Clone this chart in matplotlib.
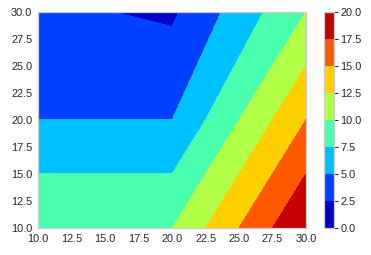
import numpy as np
import matplotlib
matplotlib.use('Agg')
import matplotlib.pyplot as plt
import seaborn as sns

sns.set_style('white')
plt.rcParams['font.family'] = ['Liberation Sans', 'DejaVu Sans']

# grid coordinates and values
xVals = [10, 20, 30]
yVals = [10, 20, 30]
zRow10 = [10, 10, 20]
zRow20 = [5, 5, 15]
zRow30 = [3, 2.1, 10]
levels = [0, 2.5, 5, 7.5, 10, 12.5, 15, 17.5, 20]

Z = np.array([zRow10, zRow20, zRow30])
X, Y = np.meshgrid(xVals, yVals)

fig = plt.figure(figsize=(371 / 72, 255 / 72), dpi=72)
ax = fig.add_axes([38.3 / 371, 1 - 228 / 255, (306 - 38.3) / 371, (228 - 11.7) / 255])
cax = fig.add_axes([324 / 371, 1 - 228 / 255, 10.3 / 371, (228 - 11.7) / 255])

cs = ax.contourf(X, Y, Z, levels=levels, cmap='jet')
ax.set_xticks(np.arange(10, 30.1, 2.5))
ax.set_yticks(np.arange(10, 30.1, 2.5))
ax.set_xticklabels(['%.1f' % v for v in np.arange(10, 30.1, 2.5)])
ax.set_yticklabels(['%.1f' % v for v in np.arange(10, 30.1, 2.5)])
ax.tick_params(length=0, pad=6, labelsize=11, labelcolor='.15')
for s in ax.spines.values():
    s.set_edgecolor('.8')
    s.set_linewidth(1.25)

cb = fig.colorbar(cs, cax=cax)
cb.set_ticks(levels)
cb.set_ticklabels(['%.1f' % v for v in levels])
cax.tick_params(length=4, width=1, color='.15', pad=2, labelsize=11, labelcolor='.15')
cb.outline.set_edgecolor('.8')
cb.outline.set_linewidth(1.25)

fig.savefig('out.png', dpi=72)
